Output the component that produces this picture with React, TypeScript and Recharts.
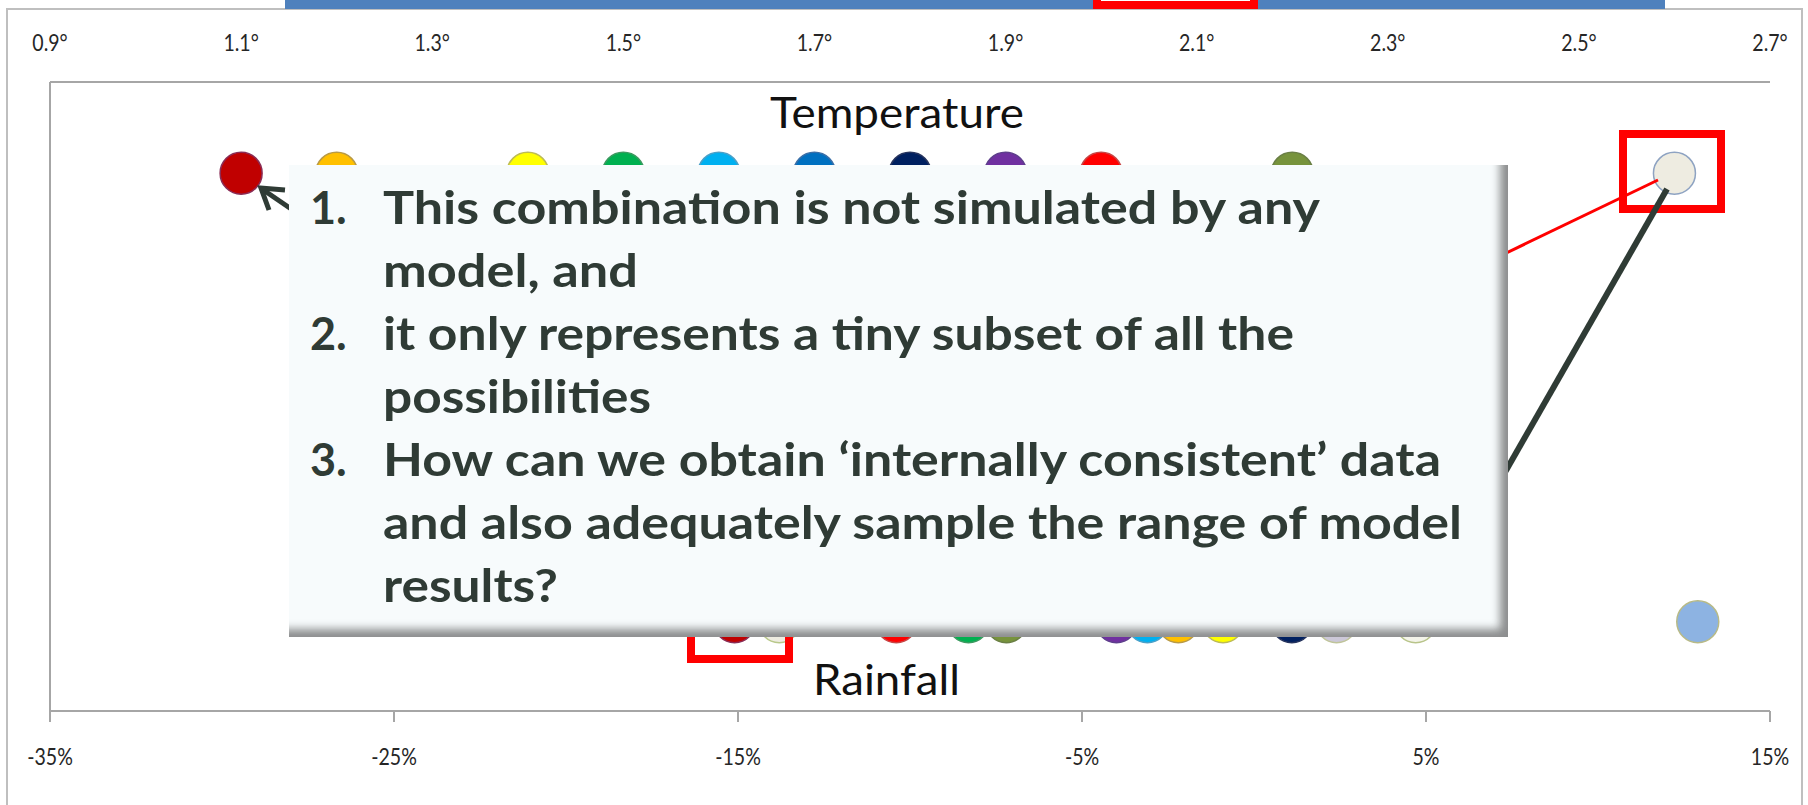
import { ScatterChart, Scatter, XAxis, YAxis, Cell } from "recharts";

// axis ticks
const tempTicks = [0.9, 1.1, 1.3, 1.5, 1.7, 1.9, 2.1, 2.3, 2.5, 2.7];
const rainTicks = [-35, -25, -15, -5, 5, 15];

// model results: warming (deg C) and rainfall change (%)
const tempValues = [1.1, 1.2, 1.4, 1.5, 1.6, 1.7, 1.8, 1.9, 2.0, 2.2, 2.6];
const rainValues = [-15.1, -13.8, -10.4, -8.3, -7.2, -4.0, -3.1, -2.2, -0.9, 1.1, 2.4, 4.7, 12.9];

// vertical row each series sits on (0..1)
const tempLevel = 0.855;
const rainLevel = 0.142;

const tempFills = ["#C00000", "#FFC000", "#FFFF00", "#00B050", "#00B0F0", "#0070C0", "#002060", "#7030A0", "#FF0000", "#77933C", "#EEECE1"];
const tempStrokes = ["#8A2C55", "#B99A45", "#BDBB55", "#3C9A60", "#4AA0C8", "#3A6FA8", "#26345E", "#5E3F8C", "#C84545", "#6A7F45", "#8EA3C2"];
const rainFills = ["#C00000", "#EEECE1", "#FF0000", "#00B050", "#77933C", "#7030A0", "#00B0F0", "#FFC000", "#FFFF00", "#002060", "#CCC8D8", "#F4F4EA", "#8DB3E2"];
const rainStrokes = ["#8A2C55", "#B8C88A", "#C84545", "#3C9A60", "#6A7F45", "#5E3F8C", "#4AA0C8", "#B99A45", "#BDBB55", "#26345E", "#BFC49A", "#B8C48A", "#B8BA86"];

const calloutLines = [
  { num: "1.", text: "This combination is not simulated by any", len: 937 },
  { num: "", text: "model, and", len: 255 },
  { num: "2.", text: "it only represents a tiny subset of all the", len: 911 },
  { num: "", text: "possibilities", len: 268 },
  { num: "3.", text: "How can we obtain \u2018internally consistent\u2019 data", len: 1058 },
  { num: "", text: "and also adequately sample the range of model", len: 1079 },
  { num: "", text: "results?", len: 175 },
];

const tempData = tempValues.map((x) => ({ x, y: tempLevel }));
const rainData = rainValues.map((x) => ({ x, y: rainLevel }));

const axisGrey = "#a6a6a6";
const textDark = "#2F3B35";

function Dot(props: any) {
  return (
    <circle cx={props.cx} cy={props.cy} r={21} fill={props.fill} stroke={props.stroke} strokeWidth={1.5} />
  );
}

function AxisTick(props: any) {
  const { x, y, payload, kind } = props;
  const label = kind === "temp" ? `${Number(payload.value).toFixed(1)}\u00b0` : `${payload.value}%`;
  return (
    <g transform={`translate(${x},${y}) scale(0.85,1)`}>
      <text textAnchor="middle" fill="#262626" fontSize={23} fontFamily="Lato">
        {label}
      </text>
    </g>
  );
}

export default function App() {
  return (
    <div style={{ position: "absolute", left: 0, top: 0, width: 1808, height: 805, overflow: "hidden", background: "#fff" }}>
      <ScatterChart width={1808} height={805} margin={{ top: 32, right: 38, bottom: 34, left: 48 }}>
        <XAxis
          xAxisId="temp"
          orientation="top"
          type="number"
          dataKey="x"
          domain={[0.9, 2.7]}
          ticks={tempTicks}
          interval={0}
          height={50}
          tickSize={0}
          tickMargin={31}
          tickLine={false}
          axisLine={{ stroke: axisGrey, strokeWidth: 2 }}
          tick={(p: any) => <AxisTick {...p} kind="temp" />}
        />
        <XAxis
          xAxisId="rain"
          orientation="bottom"
          type="number"
          dataKey="x"
          domain={[-35, 15]}
          ticks={rainTicks}
          interval={0}
          height={60}
          tickSize={11}
          tickMargin={43}
          tickLine={{ stroke: axisGrey, strokeWidth: 2 }}
          axisLine={{ stroke: axisGrey, strokeWidth: 2 }}
          tick={(p: any) => <AxisTick {...p} kind="rain" />}
        />
        <YAxis type="number" dataKey="y" domain={[0, 1]} width={2} tick={false} tickLine={false} axisLine={{ stroke: axisGrey, strokeWidth: 2 }} />
        <Scatter xAxisId="temp" data={tempData} shape={Dot} isAnimationActive={false}>
          {tempData.map((_, i) => (
            <Cell key={i} fill={tempFills[i]} stroke={tempStrokes[i]} />
          ))}
        </Scatter>
        <Scatter xAxisId="rain" data={rainData} shape={Dot} isAnimationActive={false}>
          {rainData.map((_, i) => (
            <Cell key={i} fill={rainFills[i]} stroke={rainStrokes[i]} />
          ))}
        </Scatter>
      </ScatterChart>

      {/* slide annotations behind the callout */}
      <svg width={1808} height={805} style={{ position: "absolute", left: 0, top: 0, pointerEvents: "none" }}>
        <path d="M7 805 L7 9 L1802 9 L1802 805" fill="none" stroke="#bfbfbf" strokeWidth={2} />
        <rect x={285} y={-2} width={1380} height={11} fill="#4F81BD" />
        <rect x={1097} y={-20} width={157} height={25} fill="#fff" stroke="#FF0000" strokeWidth={8} />
        <rect x={1623} y={134} width={98} height={75} fill="none" stroke="#FF0000" strokeWidth={8} />
        <rect x={691} y={560} width={98} height={99} fill="none" stroke="#FF0000" strokeWidth={8} />
        <line x1={1658} y1={180} x2={1500} y2={256} stroke="#FF0000" strokeWidth={3} />
        <line x1={1667} y1={189} x2={1500} y2={481} stroke={textDark} strokeWidth={6} />
        <line x1={262} y1={189} x2={300} y2={215} stroke={textDark} strokeWidth={5} />
        <polyline points="285,190 261,188 269,210" fill="none" stroke={textDark} strokeWidth={5} />
        <text x={770} y={128} fontSize={43} fontFamily="Lato" fill="#111" textLength={254} lengthAdjust="spacingAndGlyphs">
          Temperature
        </text>
        <text x={813} y={695} fontSize={43} fontFamily="Lato" fill="#111" textLength={147} lengthAdjust="spacingAndGlyphs">
          Rainfall
        </text>
      </svg>

      {/* callout box */}
      <div
        style={{
          position: "absolute",
          left: 289,
          top: 165,
          width: 1219,
          height: 472,
          background: "#F7FBFC",
          boxShadow: "inset -11px -11px 9px -3px rgba(70,70,70,0.6)",
        }}
      />
      <svg width={1808} height={805} style={{ position: "absolute", left: 0, top: 0, pointerEvents: "none" }}>
        {calloutLines.map((l, i) => (
          <g key={i}>
            {l.num && (
              <text x={310} y={224 + i * 63} fontSize={45} fontWeight={700} fontFamily="Lato" fill={textDark}>
                {l.num}
              </text>
            )}
            <text x={383} y={224 + i * 63} fontSize={45} fontWeight={700} fontFamily="Lato" fill={textDark} textLength={l.len} lengthAdjust="spacingAndGlyphs">
              {l.text}
            </text>
          </g>
        ))}
      </svg>
    </div>
  );
}
